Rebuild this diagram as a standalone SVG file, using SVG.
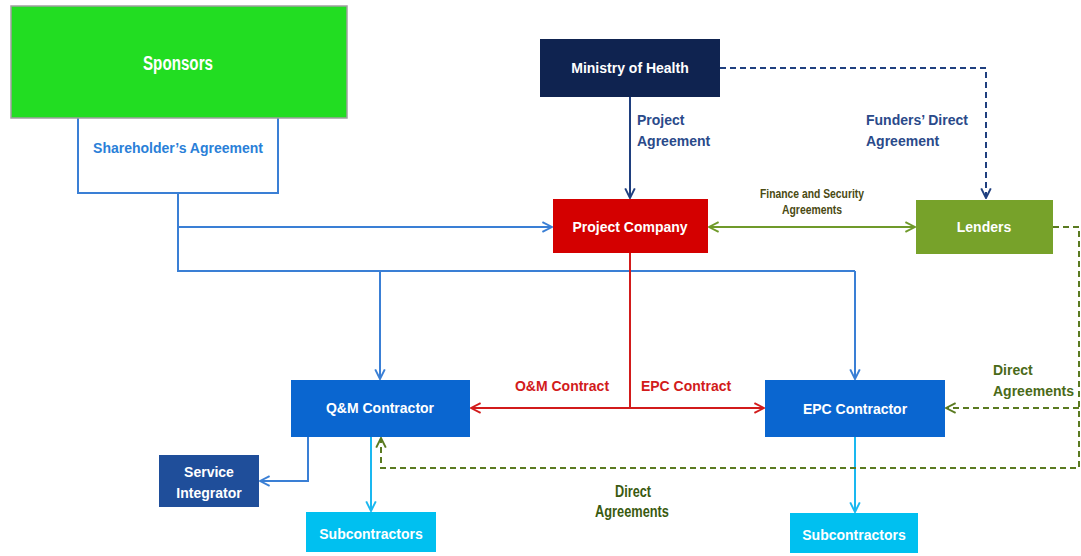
<svg xmlns="http://www.w3.org/2000/svg" width="1081" height="556" viewBox="0 0 1081 556">
<style>
.t{font-family:"Liberation Sans",Arial,sans-serif;font-weight:bold;font-size:14px;text-anchor:middle}
.s{text-anchor:start}
.w{fill:#fff}
.n{font-family:"Liberation Sans",Arial,sans-serif;font-weight:bold;text-anchor:middle}
.blue{fill:none;stroke:#3a7fd5;stroke-width:2}
</style>
<defs>
<marker id="an" viewBox="0 0 10 10" refX="9" refY="5" markerWidth="12" markerHeight="12" orient="auto-start-reverse" markerUnits="userSpaceOnUse"><path d="M1,1 L9,5 L1,9" fill="none" stroke="#1f3f7f" stroke-width="1.6"/></marker>
<marker id="ar" viewBox="0 0 10 10" refX="9" refY="5" markerWidth="12" markerHeight="12" orient="auto-start-reverse" markerUnits="userSpaceOnUse"><path d="M1,1 L9,5 L1,9" fill="none" stroke="#d21b1b" stroke-width="1.6"/></marker>
<marker id="ag" viewBox="0 0 10 10" refX="9" refY="5" markerWidth="12" markerHeight="12" orient="auto-start-reverse" markerUnits="userSpaceOnUse"><path d="M1,1 L9,5 L1,9" fill="none" stroke="#6f9a2a" stroke-width="1.6"/></marker>
<marker id="ad" viewBox="0 0 10 10" refX="9" refY="5" markerWidth="12" markerHeight="12" orient="auto-start-reverse" markerUnits="userSpaceOnUse"><path d="M1,1 L9,5 L1,9" fill="none" stroke="#5a7a20" stroke-width="1.6"/></marker>
<marker id="ac" viewBox="0 0 10 10" refX="9" refY="5" markerWidth="12" markerHeight="12" orient="auto-start-reverse" markerUnits="userSpaceOnUse"><path d="M1,1 L9,5 L1,9" fill="none" stroke="#1ab8f0" stroke-width="1.6"/></marker>
<marker id="ab2" viewBox="0 0 10 10" refX="9" refY="5" markerWidth="12" markerHeight="12" orient="auto-start-reverse" markerUnits="userSpaceOnUse"><path d="M1,1 L9,5 L1,9" fill="none" stroke="#3a7fd5" stroke-width="1.6"/></marker>
</defs>
<rect width="1081" height="556" fill="#fff"/>
<g id="connectors">
<path class="blue" d="M78,118 V193 H278 V118"/>
<path class="blue" d="M178,193 V271 H855"/>
<path class="blue" d="M178,227 H552" marker-end="url(#ab2)"/>
<path class="blue" d="M380,271 V379" marker-end="url(#ab2)"/>
<path class="blue" d="M855,271 V379" marker-end="url(#ab2)"/>
<path d="M630,97 V198" fill="none" stroke="#1f3f7f" stroke-width="2" marker-end="url(#an)"/>
<path d="M720,68 H986 V198" fill="none" stroke="#1f3f7f" stroke-width="2" stroke-dasharray="6,4" marker-end="url(#an)"/>
<path d="M709,227 H915" fill="none" stroke="#6f9a2a" stroke-width="2" marker-start="url(#ag)" marker-end="url(#ag)"/>
<path d="M630,253 V408" fill="none" stroke="#d21b1b" stroke-width="2"/>
<path d="M471,408 H764" fill="none" stroke="#d21b1b" stroke-width="2" marker-start="url(#ar)" marker-end="url(#ar)"/>
<path class="blue" d="M308,437 V481 H260" marker-end="url(#ab2)"/>
<path d="M371,437 V511" fill="none" stroke="#1ab8f0" stroke-width="2" marker-end="url(#ac)"/>
<path d="M855,437 V512" fill="none" stroke="#1ab8f0" stroke-width="2" marker-end="url(#ac)"/>
<path d="M1053,227 H1079 V468 H381 V438" fill="none" stroke="#5a7a20" stroke-width="2" stroke-dasharray="6,4" marker-end="url(#ad)"/>
<path d="M1079,408 H946" fill="none" stroke="#5a7a20" stroke-width="2" stroke-dasharray="6,4" marker-end="url(#ad)"/>
</g>
<g id="labels">
<text class="t" x="178" y="153" fill="#2a7fd8">Shareholder’s Agreement</text>
<text class="t s" x="637" y="125" fill="#2a4a8a">Project</text>
<text class="t s" x="637" y="146" fill="#2a4a8a">Agreement</text>
<text class="t s" x="866" y="125" fill="#2a4a8a">Funders’ Direct</text>
<text class="t s" x="866" y="146" fill="#2a4a8a">Agreement</text>
<text class="n" x="812" y="198" font-size="12" fill="#4a4a12" textLength="104" lengthAdjust="spacingAndGlyphs">Finance and Security</text>
<text class="n" x="812" y="214" font-size="12" fill="#4a4a12" textLength="60" lengthAdjust="spacingAndGlyphs">Agreements</text>
<text class="t" x="562" y="391" fill="#d21b1b">O&amp;M Contract</text>
<text class="t" x="686" y="391" fill="#d21b1b">EPC Contract</text>
<text class="t s" x="993" y="375" fill="#4a6a18">Direct</text>
<text class="t s" x="993" y="396" fill="#4a6a18">Agreements</text>
<text class="n" x="633" y="497" font-size="16" fill="#3a5a10" textLength="36" lengthAdjust="spacingAndGlyphs">Direct</text>
<text class="n" x="632" y="517" font-size="16" fill="#3a5a10" textLength="74" lengthAdjust="spacingAndGlyphs">Agreements</text>
</g>
<g id="sponsors"><rect x="11" y="6" width="336" height="112" fill="#22dd22" stroke="#a0a0a0" stroke-width="1.5"/><text class="n w" x="178" y="70" font-size="20" textLength="70" lengthAdjust="spacingAndGlyphs">Sponsors</text></g>
<g id="ministry"><rect x="540" y="39" width="180" height="58" fill="#0f2350"/><text class="t w" x="630" y="73">Ministry of Health</text></g>
<g id="project-company"><rect x="553" y="199" width="155" height="54" fill="#d40000"/><text class="t w" x="630" y="232">Project Company</text></g>
<g id="lenders"><rect x="916" y="200" width="137" height="54" fill="#77a22a"/><text class="t w" x="984" y="232">Lenders</text></g>
<g id="qm-contractor"><rect x="291" y="380" width="179" height="57" fill="#0a66d0"/><text class="t w" x="380" y="413">Q&amp;M Contractor</text></g>
<g id="epc-contractor"><rect x="765" y="380" width="180" height="57" fill="#0a66d0"/><text class="t w" x="855" y="414">EPC Contractor</text></g>
<g id="service-integrator"><rect x="159" y="455" width="100" height="52" fill="#1f4e9a"/><text class="t w" x="209" y="477">Service</text><text class="t w" x="209" y="498">Integrator</text></g>
<g id="subcontractors-1"><rect x="306" y="512" width="130" height="40" fill="#00c0f0"/><text class="t w" x="371" y="539">Subcontractors</text></g>
<g id="subcontractors-2"><rect x="790" y="513" width="128" height="40" fill="#00c0f0"/><text class="t w" x="854" y="540">Subcontractors</text></g>
</svg>
